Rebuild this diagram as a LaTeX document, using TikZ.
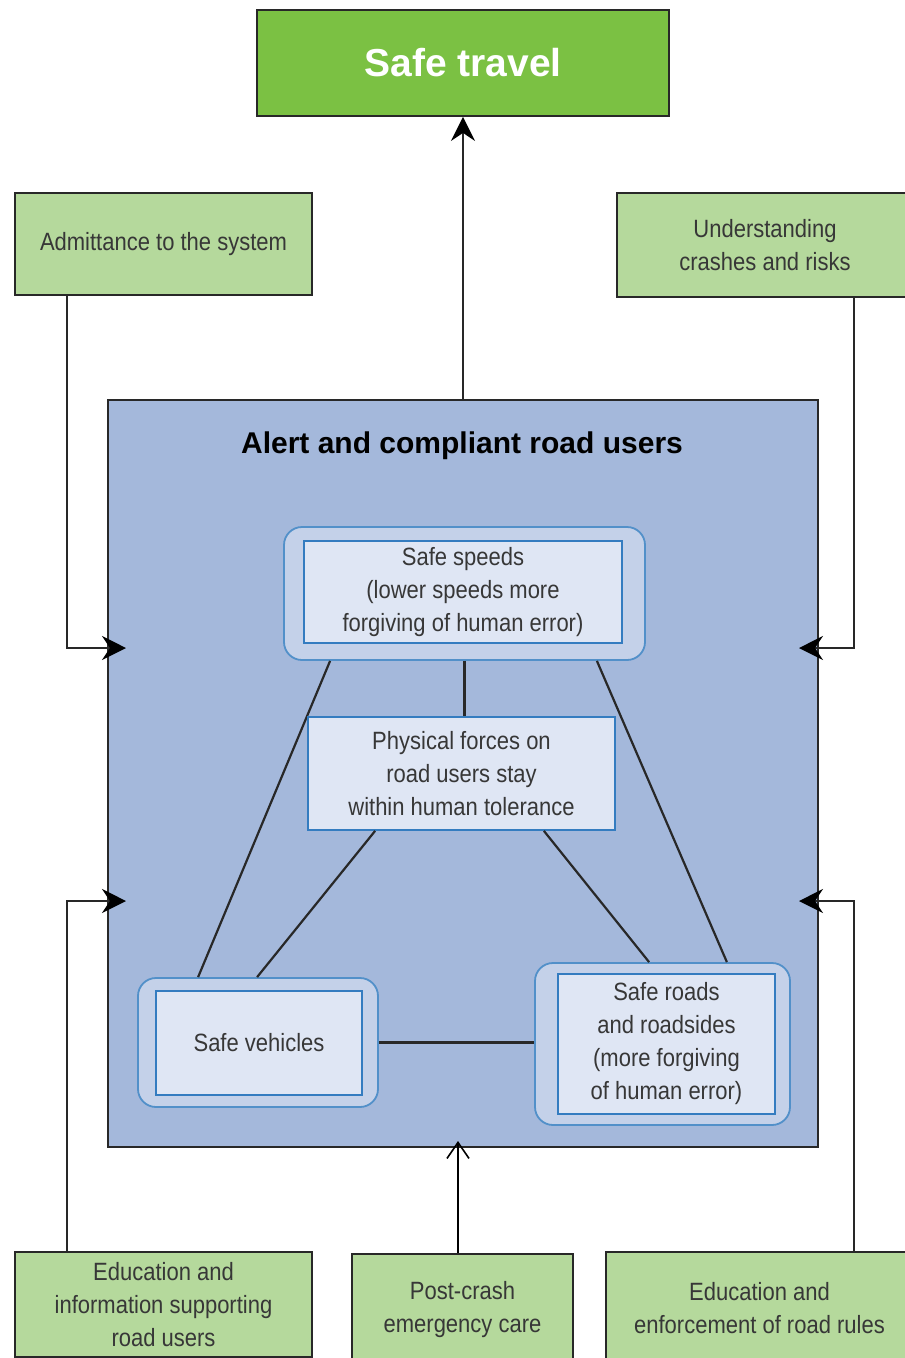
\documentclass[tikz,border=0pt]{standalone}
\usepackage{fontspec}
\setmainfont{Liberation Sans}
\newfontfamily\condfont{Liberation Sans}[FakeStretch=0.88]
\usetikzlibrary{arrows.meta,calc}
\definecolor{topgreen}{RGB}{123,193,67}
\definecolor{lightgreen}{RGB}{181,217,156}
\definecolor{mainblue}{RGB}{164,184,219}
\definecolor{outerblue}{RGB}{196,209,233}
\definecolor{innerfill}{RGB}{223,230,244}
\definecolor{edgeblue}{RGB}{52,124,192}
\definecolor{txt}{RGB}{55,55,55}
\definecolor{linegray}{RGB}{40,40,40}
\tikzset{
  greenbox/.style={draw=linegray, line width=1.8pt, fill=lightgreen, align=center,
    text=txt, font=\condfont\fontsize{25}{33}\selectfont, inner sep=0pt},
  outerbox/.style={draw=edgeblue!85, line width=1.8pt, fill=outerblue, rounded corners=18pt, inner sep=0pt},
  innerbox/.style={draw=edgeblue, line width=1.8pt, fill=innerfill, align=center,
    text=txt, font=\condfont\fontsize{25}{33}\selectfont, inner sep=0pt},
  link/.style={draw=linegray, line width=2.2pt},
  feed/.style={draw=linegray, line width=2pt, -{Stealth[length=24pt,width=24pt,inset=8pt,color=black]}},
  thinfeed/.style={draw=black, line width=1.6pt, -{Straight Barb[length=16pt,width=22pt,line width=1.6pt]}}
}
\begin{document}
\begin{tikzpicture}[x=1pt,y=-1pt]
\useasboundingbox (0,0) rectangle (905,1358);
% top
\node[draw=linegray, line width=1.8pt, fill=topgreen, minimum width=412pt, minimum height=106pt,
  text=white, font=\bfseries\fontsize{39}{44}\selectfont, inner sep=0pt] (travel) at (463,63) {Safe travel};
\node[greenbox, minimum width=297pt, minimum height=102pt] (adm) at (163.5,244) {Admittance to the system};
\node[greenbox, minimum width=296pt, minimum height=104pt] (und) at (765,245) {Understanding\\crashes and risks};
% main box
\node[draw=linegray, line width=1.8pt, fill=mainblue, minimum width=710pt, minimum height=747pt, inner sep=0pt] (main) at (463,773.5) {};
\node[font=\bfseries\fontsize{30}{36}\selectfont, text=black] (title) at (462,446) {Alert and compliant road users};
% inner boxes
\node[outerbox, minimum width=361pt, minimum height=133pt] (so) at (464.5,593.5) {};
\node[innerbox, minimum width=318pt, minimum height=102pt] (si) at (463,592) {Safe speeds\\(lower speeds more\\forgiving of human error)};
\node[outerbox, minimum width=240pt, minimum height=129pt] (vo) at (258,1042.5) {};
\node[innerbox, minimum width=206pt, minimum height=104pt] (vi) at (259,1043) {Safe vehicles};
\node[outerbox, minimum width=255pt, minimum height=162pt] (ro) at (662.5,1044) {};
\node[innerbox, minimum width=217pt, minimum height=140pt] (ri) at (666.5,1044) {Safe roads\\and roadsides\\(more forgiving\\of human error)};
% links
\draw[link] (so.south) -- (so.south |- 0,717);
\draw[link] ([xshift=47pt]so.south west) -- ([xshift=61pt]vo.north west);
\draw[link] ([xshift=-49pt]so.south east) -- ([xshift=-64pt]ro.north east);
\node[innerbox, minimum width=307pt, minimum height=113pt] (pf) at (461.5,773.5) {Physical forces on\\road users stay\\within human tolerance};
\draw[link] ([xshift=68pt]pf.south west) -- ([xshift=120pt]vo.north west);
\draw[link] ([xshift=-72pt]pf.south east) -- ([xshift=115pt]ro.north west);
\draw[link] (vo.east) -- (vo.east -| ro.west);
% bottom boxes
\node[greenbox, minimum width=297pt, minimum height=105pt] (el) at (163.5,1304.5) {Education and\\information supporting\\road users};
\node[greenbox, minimum width=221pt, minimum height=111pt] (pc) at (462.5,1309.5) {Post-crash\\emergency care};
\node[greenbox, minimum width=307pt, minimum height=113pt] (er) at (759.5,1308.5) {Education and\\enforcement of road rules};
% feed arrows
\coordinate (a1) at (126,648);
\coordinate (a2) at (799,648);
\coordinate (a3) at (126,901);
\coordinate (a4) at (799,901);
\coordinate (a5) at (458,1141);
\draw[feed] (main.north) -- (travel.south);
\draw[feed] ([xshift=53pt]adm.south west) |- (a1);
\draw[feed] ([xshift=238pt]und.south west) |- (a2);
\draw[feed] ([xshift=53pt]el.north west) |- (a3);
\draw[feed] ([xshift=249pt]er.north west) |- (a4);
\draw[thinfeed] (a5 |- pc.north) -- (a5);
\end{tikzpicture}
\end{document}
